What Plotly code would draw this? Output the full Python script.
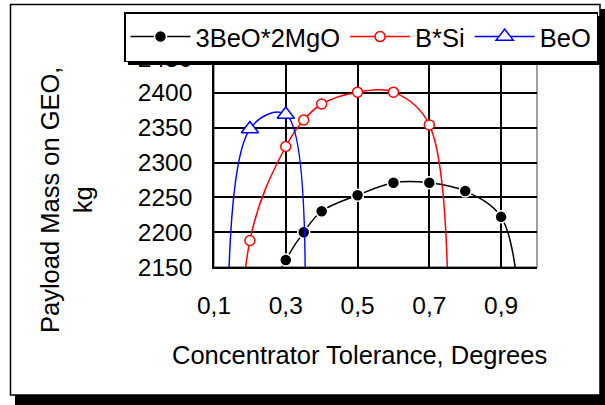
import plotly.graph_objects as go

W, H = 605, 405
L, R, T, B = 214, 537, 58, 267  # plot area in px

# data (points outside the visible range drive the clipped curve ends)
mg_x = [0.25, 0.3, 0.35, 0.4, 0.5, 0.6, 0.7, 0.8, 0.9, 0.95]
mg_y = [2100, 2160, 2200, 2230, 2253, 2271, 2271, 2259, 2222, 2100]
bsi_x = [0.16, 0.2, 0.3, 0.35, 0.4, 0.5, 0.6, 0.7, 0.75]
bsi_y = [1600, 2188, 2323, 2361, 2384, 2401, 2401, 2354, 1900]
beo_x = [0.152, 0.2, 0.3, 0.328]
beo_y = [1700, 2348, 2369, 1700]
x_ticks = [0.1, 0.3, 0.5, 0.7, 0.9]
x_ticktext = ["0,1", "0,3", "0,5", "0,7", "0,9"]
y_ticks = [2150, 2200, 2250, 2300, 2350, 2400, 2450]

FONT = "Arial, Liberation Sans, sans-serif"
FS = 25.5
TFS = 24.5

def px(xp):
    return (xp - L) / (R - L)

def py(yp):
    return (B - yp) / (B - T)

fig = go.Figure()
fig.add_trace(go.Scatter(
    x=mg_x, y=mg_y, name="3BeO*2MgO", mode="lines+markers",
    line=dict(color="black", width=1.5, shape="spline", smoothing=1),
    marker=dict(symbol="circle", size=12, color="black", line=dict(color="white", width=1.5)),
))
fig.add_trace(go.Scatter(
    x=bsi_x, y=bsi_y, name="B*Si", mode="lines+markers",
    line=dict(color="#ff0000", width=1.5, shape="spline", smoothing=1),
    marker=dict(symbol="circle", size=10, color="white", line=dict(color="#ff0000", width=1.5)),
))
fig.add_trace(go.Scatter(
    x=beo_x, y=beo_y, name="BeO", mode="lines+markers",
    line=dict(color="#0000ff", width=1.5, shape="spline", smoothing=1),
    marker=dict(symbol="triangle-up", size=15, color="white", line=dict(color="#0000ff", width=1.5)),
))

shapes = [
    # chart frame shadow + frame
    dict(type="rect", xref="paper", yref="paper", x0=px(15), x1=px(606), y0=py(9), y1=py(406),
         fillcolor="black", line=dict(width=0), layer="below"),
    dict(type="rect", xref="paper", yref="paper", x0=px(10.5), x1=px(600), y0=py(4.5), y1=py(395),
         fillcolor="white", line=dict(color="black", width=1.5), layer="below"),
    # plot-area border (grey)
    dict(type="rect", xref="paper", yref="paper", x0=0, x1=1, y0=0, y1=1,
         line=dict(color="#808080", width=1.5), layer="below"),
    # legend shadow
    dict(type="rect", xref="paper", yref="paper", x0=px(128), x1=px(604), y0=py(16), y1=py(65),
         fillcolor="black", line=dict(width=0), layer="above"),
]

annotations = [
    dict(text="Payload Mass on GEO,<br>kg", xref="paper", yref="paper", x=px(66), y=py(200),
         textangle=-90, showarrow=False, font=dict(family=FONT, size=FS, color="black"),
         xanchor="center", yanchor="middle"),
    dict(text="Concentrator Tolerance, Degrees", xref="paper", yref="paper", x=px(359), y=py(355),
         showarrow=False, font=dict(family=FONT, size=FS, color="black"),
         xanchor="center", yanchor="middle"),
]

fig.update_layout(
    width=W, height=H,
    margin=dict(l=L, r=W - R, t=T, b=H - B, pad=0, autoexpand=False),
    paper_bgcolor="white", plot_bgcolor="white",
    font=dict(family=FONT, size=FS, color="black"),
    shapes=shapes, annotations=annotations,
    showlegend=True,
    legend=dict(orientation="h", xref="paper", yref="paper",
                x=px(124), y=py(12), xanchor="left", yanchor="top",
                bgcolor="white", bordercolor="black", borderwidth=1.5,
                font=dict(family=FONT, size=FS, color="black"),
                itemwidth=60, tracegroupgap=0),
    xaxis=dict(range=[0.1, 1.0], tickvals=x_ticks, ticktext=x_ticktext,
               tickfont=dict(family=FONT, size=TFS, color="black"),
               showgrid=True, gridcolor="black", gridwidth=1.5,
               showline=True, linecolor="black", linewidth=1.5,
               zeroline=False, ticks="", ticklabelstandoff=16),
    yaxis=dict(range=[2150, 2450], tickvals=y_ticks,
               tickfont=dict(family=FONT, size=TFS, color="black"),
               showgrid=True, gridcolor="black", gridwidth=1.5,
               showline=True, linecolor="black", linewidth=1.5,
               zeroline=False, ticks="", ticklabelstandoff=15),
)

fig.write_html("out.html", config={"displayModeBar": False},
               post_script="document.body.style.margin='0px';")
